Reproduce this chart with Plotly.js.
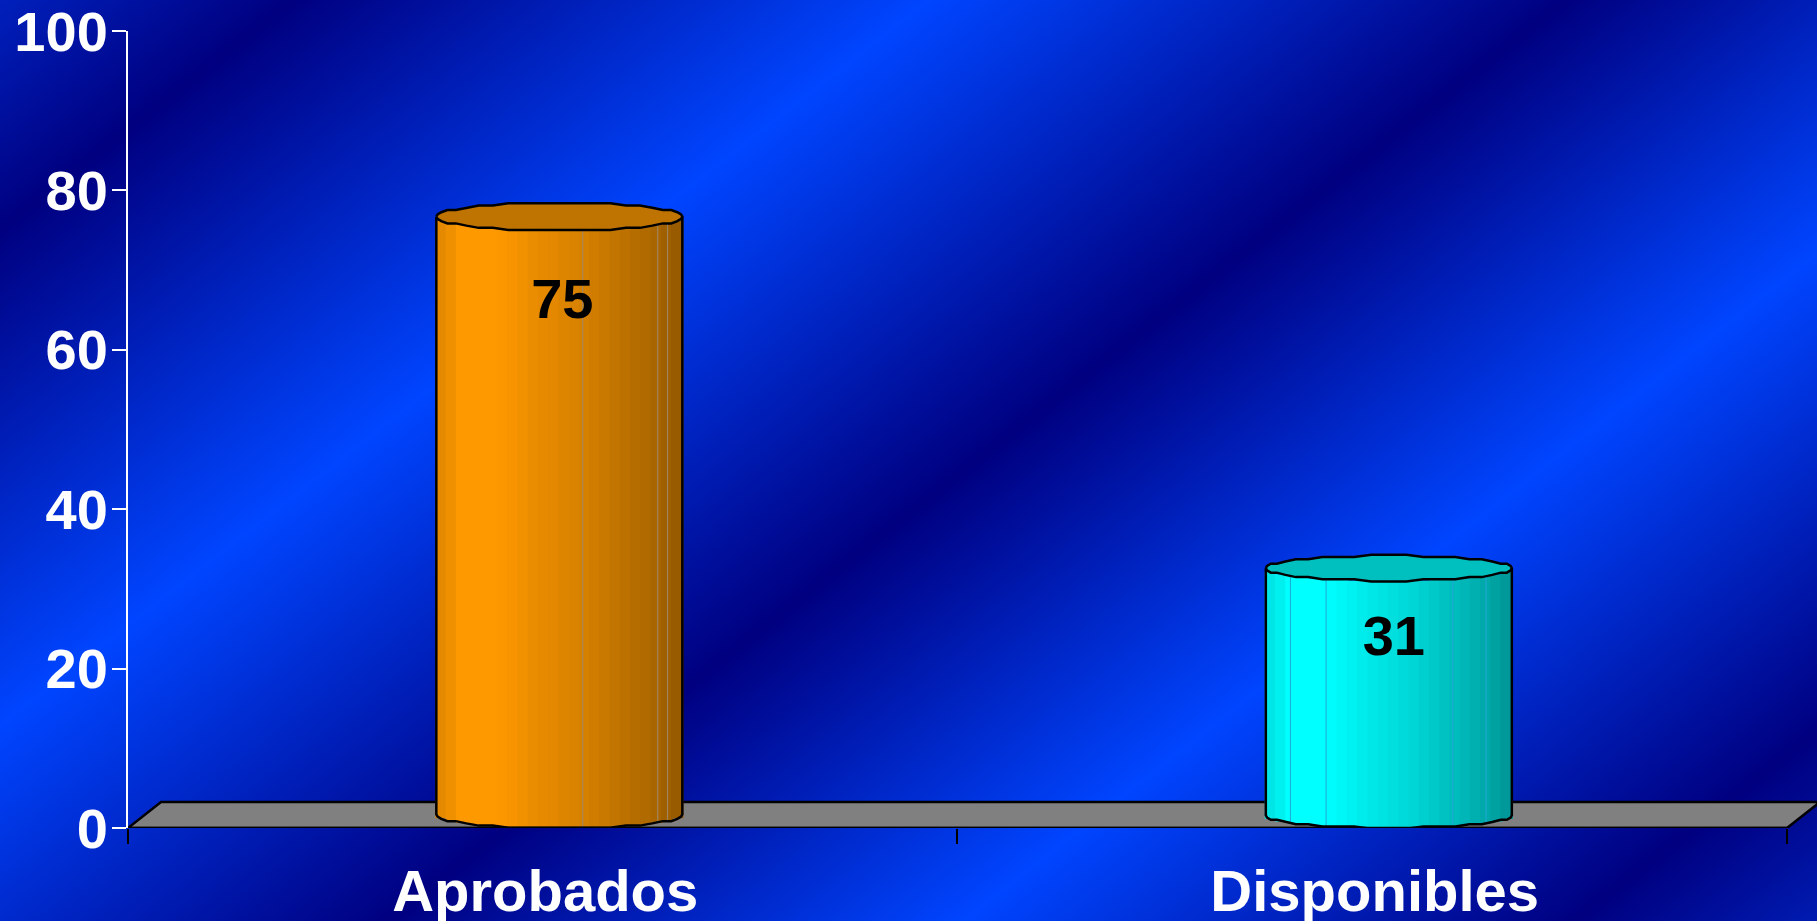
<!DOCTYPE html>
<html>
<head>
<meta charset="utf-8">
<script src="https://cdn.plot.ly/plotly-3.0.0.min.js"></script>
<style>
html,body{margin:0;padding:0;width:1817px;height:921px;overflow:hidden;
background:linear-gradient(142deg,#0020bc 0%,#000080 9.8%,#0045ff 31%,#000080 52.3%,#0045ff 71.5%,#000080 91.9%,#001bb1 100%);}
#g{width:1817px;height:921px;}
</style>
</head>
<body>
<div id="g"></div>
<script>
const categories = ['Aprobados', 'Disponibles'];
const values = [75, 31];
const yTicks = [0, 20, 40, 60, 80, 100];
const bodyColors = [[255,153,0],[0,255,255]];

// presentation constants
const FONT = 'Liberation Sans, Arial, sans-serif';
const SHIFT = 0.02, HALF = 0.1483, STRIPS = 24;
const SAGS = [1.7, 1.6];
const LABEL_DROP = [9.2, 7.5], LABEL_SHIFT = [0.0036, 0.006];
const DEPTH_X = 0.0398, DEPTH_Y = 3.26;
const LABEL_NUDGE = 0.003;
const seams = [[0.19,0.8,0.88],[-0.8,-0.51,0.52,0.79]];
const seamColors = ['#a08868','#20a8d8'];
const shadeStops = [[-1,.88],[-.85,.95],[-.8,1],[-.5,1],[-.2,.92],[.2,.84],[.5,.75],[.75,.68],[.9,.62],[1,.58]];

function shade(u){
  for(let k=1;k<shadeStops.length;k++){
    const a=shadeStops[k-1],b=shadeStops[k];
    if(u<=b[0]) return a[1]+(b[1]-a[1])*(u-a[0])/(b[0]-a[0]);
  }
  return shadeStops[shadeStops.length-1][1];
}
const rgb=(c,s)=>`rgb(${c.map(v=>Math.round(v*s)).join(',')})`;
const sag=(u,s)=>s*(1-Math.sqrt(Math.max(0,1-u*u)));
const step=v=>Math.round(v/0.28)*0.28;
const traces=[];

// cylinder bodies: vertical strips drawn as bars
const dw=2/STRIPS;
for(let j=0;j<STRIPS;j++){
  const u=-1+dw*(j+.5);
  traces.push({type:'bar',
    x:values.map((_,i)=>i+SHIFT+u*HALF),
    y:values,
    base:values.map((_,i)=>sag(u,SAGS[i])),
    width:HALF*dw*1.2,
    marker:{color:bodyColors.map(c=>rgb(c,shade(u))),line:{width:0}},
    hoverinfo:'skip',showlegend:false});
}

// seams, rim, outline
const SEG=22;
values.forEach((v,i)=>{
  const cx=i+SHIFT, S=SAGS[i];
  seams[i].forEach(u=>{
    traces.push({type:'scatter',mode:'lines',x:[cx+u*HALF,cx+u*HALF],y:[sag(u,S),v+sag(u,S)],
      line:{color:seamColors[i],width:1},hoverinfo:'skip',showlegend:false});
  });
  const rx=[],ry=[];
  for(let k=0;k<=SEG*2;k++){
    const t=Math.PI*k/SEG;
    rx.push(cx-Math.cos(t)*HALF);
    ry.push(v+S+step(Math.sin(t)*S));
  }
  traces.push({type:'scatter',mode:'lines',x:rx,y:ry,fill:'toself',
    fillcolor:rgb(bodyColors[i],.75),line:{color:'#000',width:2.5},hoverinfo:'skip',showlegend:false});
  const ox=[cx-HALF],oy=[v+S];
  for(let k=0;k<=SEG;k++){
    const t=Math.PI*k/SEG;
    ox.push(cx-Math.cos(t)*HALF);
    oy.push(S-step(Math.sin(t)*S));
  }
  ox.push(cx+HALF);oy.push(v+S);
  traces.push({type:'scatter',mode:'lines',x:ox,y:oy,line:{color:'#000',width:2.5},hoverinfo:'skip',showlegend:false});
});

// front edge of the floor
traces.push({type:'scatter',mode:'lines',x:[-0.5,1.5],y:[0,0],cliponaxis:false,
  line:{color:'#000',width:2.5},hoverinfo:'skip',showlegend:false});

// value labels
traces.push({type:'scatter',mode:'text',
  x:values.map((_,i)=>i+SHIFT+LABEL_SHIFT[i]),
  y:values.map((v,i)=>v-LABEL_DROP[i]),
  text:values.map(String),textposition:'middle center',
  textfont:{family:FONT,size:56,color:'#000',weight:700},
  cliponaxis:false,hoverinfo:'skip',showlegend:false});

const layout={
  width:1817,height:921,
  margin:{l:128,r:0,t:31,b:93,pad:0},
  paper_bgcolor:'rgba(0,0,0,0)',plot_bgcolor:'rgba(0,0,0,0)',
  barmode:'overlay',showlegend:false,hovermode:false,
  font:{family:FONT},
  xaxis:{type:'linear',range:[-0.5,1.5362],showgrid:false,zeroline:false,showline:false,
    tickmode:'array',tickvals:categories.map((_,i)=>i+LABEL_NUDGE),ticktext:categories,ticks:'',
    ticklabelstandoff:24,ticklabeloverflow:'allow',
    tickfont:{family:FONT,size:58,color:'#fff',weight:700},
    minor:{tickmode:'array',tickvals:[-0.5,0.5,1.5],ticks:'outside',ticklen:15,tickwidth:2,tickcolor:'#000',showgrid:false}},
  yaxis:{range:[0,100],showgrid:false,zeroline:false,showline:true,linecolor:'#fff',linewidth:2,
    tickmode:'array',tickvals:yTicks,ticks:'outside',ticklen:14,tickwidth:2,tickcolor:'#fff',
    ticklabelstandoff:-7,ticklabeloverflow:'allow',
    tickfont:{family:FONT,size:56,color:'#fff',weight:700}},
  shapes:[{type:'path',layer:'below',xref:'x',yref:'y',
    path:`M -0.5 0 L ${-0.5+DEPTH_X} ${DEPTH_Y} L ${1.5+DEPTH_X} ${DEPTH_Y} L 1.5 0 Z`,
    fillcolor:'#808080',line:{color:'#000',width:2.5}}]
};
Plotly.newPlot('g',traces,layout,{displayModeBar:false,staticPlot:true});
</script>
</body>
</html>
